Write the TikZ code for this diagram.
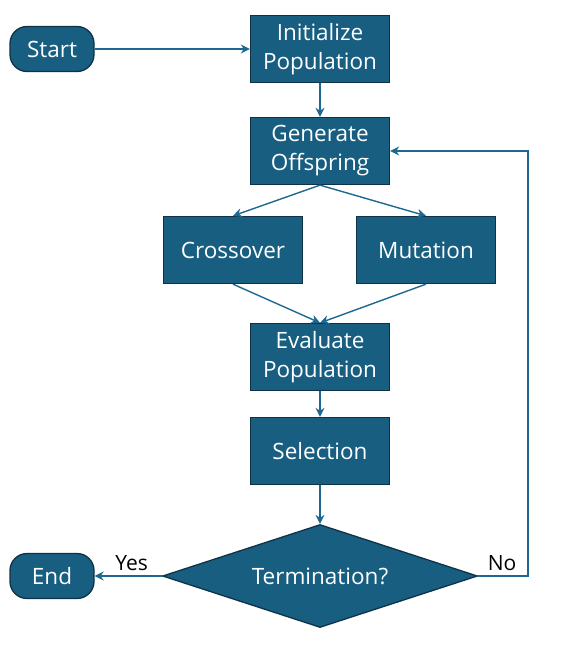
\documentclass[tikz,border=0pt]{standalone}
\usepackage{fontspec}
\setmainfont{Open Sans}
\usetikzlibrary{shapes.geometric,arrows.meta}

\definecolor{boxfill}{HTML}{175E81}
\definecolor{boxline}{HTML}{0F3247}
\definecolor{flowline}{HTML}{1D6890}

\tikzset{
  base/.style={draw=boxline, fill=boxfill, line width=1.3pt, text=white,
    font=\fontsize{22.5}{29}\selectfont, align=center, inner sep=0pt},
  stepbox/.style={base, rectangle, minimum width=139pt, minimum height=67pt},
  terminal/.style={base, rectangle, rounded corners=17pt, minimum width=84pt, minimum height=45pt},
  decision/.style={base, diamond, aspect=3, minimum width=315pt, minimum height=103pt},
  flow/.style={draw=flowline, line width=1.4pt, -{Stealth[length=9pt,width=9pt]}},
  answer/.style={font=\fontsize{21}{25}\selectfont, text=black, inner sep=2pt, yshift=3pt}
}

\begin{document}
\begin{tikzpicture}[x=1pt, y=-1pt]
  \useasboundingbox (0,0) rectangle (565,650);

  % nodes
  \node[terminal] (start) at (52,49) {Start};
  \node[stepbox] (init) at (320,49) {Initialize\\Population};
  \node[stepbox] (gen) at (320,151) {Generate\\Offspring};
  \node[stepbox] (cross) at (233,250) {Crossover};
  \node[stepbox] (mut) at (426,250) {Mutation};
  \node[stepbox] (eval) at (320,357) {Evaluate\\Population};
  \node[stepbox] (sel) at (320,451) {Selection};
  \node[decision] (term) at (320,576) {Termination?};
  \node[terminal] (end) at (52,576) {End};
  \coordinate (loop) at (528,576);

  % connectors
  \draw[flow] (start) -- (init);
  \draw[flow] (init) -- (gen);
  \draw[flow] (gen.south) -- (cross.north);
  \draw[flow] (gen.south) -- (mut.north);
  \draw[flow] (cross.south) -- (eval.north);
  \draw[flow] (mut.south) -- (eval.north);
  \draw[flow] (eval) -- (sel);
  \draw[flow] (sel) -- (term);
  \draw[flow] (term.west) -- (end.east) node[answer, pos=0.45, above] {Yes};
  \draw[flow] (term.east) -- (loop) |- (gen.east);
  \node[answer, above] (no) at ([xshift=24pt]term.east) {No};
\end{tikzpicture}
\end{document}
